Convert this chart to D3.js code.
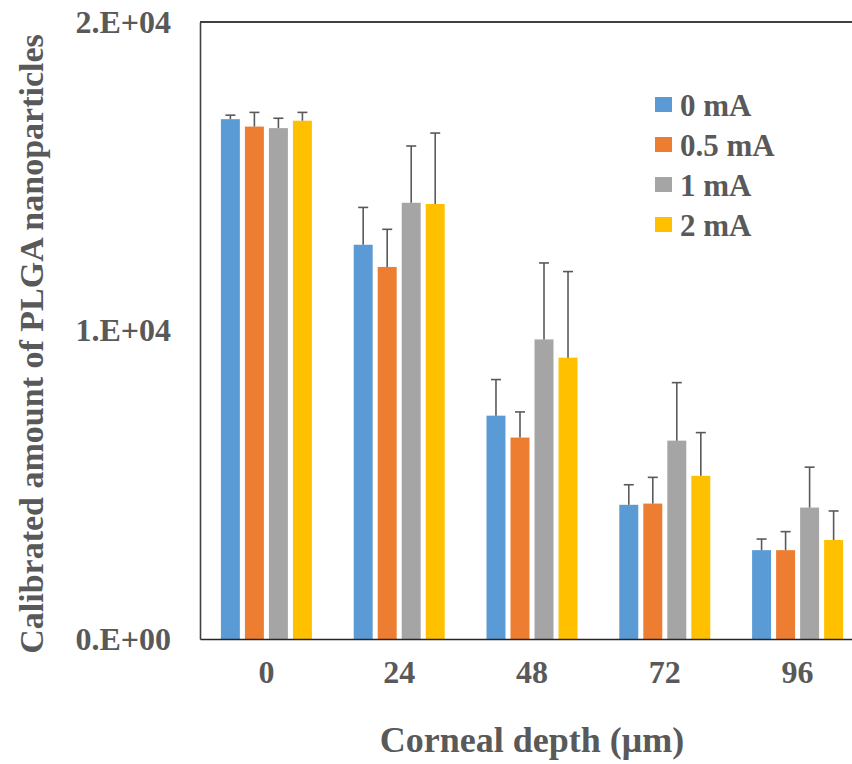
<!DOCTYPE html>
<html><head><meta charset="utf-8">
<script src="https://cdn.jsdelivr.net/npm/d3@7"></script>
<style>body{margin:0;background:#fff}svg{display:block}</style>
</head><body>
<svg id="c" width="852" height="764"></svg>
<script>
const categories = ["0", "24", "48", "72", "96"];
const seriesNames = ["0 mA", "0.5 mA", "1 mA", "2 mA"];
const colors = ["#5B9BD5", "#ED7D31", "#A5A5A5", "#FFC000"];
const val0mA  = [16850, 12780, 7240, 4350, 2880];
const val05mA = [16610, 12060, 6530, 4390, 2880];
const val1mA  = [16560, 14140, 9710, 6430, 4260];
const val2mA  = [16800, 14100, 9120, 5290, 3210];
const err0mA  = [130, 1210, 1170, 650, 360];
const err05mA = [460, 1220, 830, 850, 600];
const err1mA  = [320, 1840, 2480, 1880, 1310];
const err2mA  = [270, 2300, 2790, 1400, 940];
const yTicks = [0, 10000, 20000];
const yTickLabels = ["0.E+00", "1.E+04", "2.E+04"];

const values = [val0mA, val05mA, val1mA, val2mA];
const errors = [err0mA, err05mA, err1mA, err2mA];

const svg = d3.select("#c");
const m = {l: 200, t: 22, b: 639, r: 864};
const font = "'Liberation Serif', 'Times New Roman', serif";
const textCol = "#595959";

const x0 = d3.scaleBand().domain(categories).range([m.l, m.r]).padding(0);
const x1 = d3.scaleBand().domain(seriesNames).range([0, 91]).paddingInner(0.21).paddingOuter(0);
const y = d3.scaleLinear().domain([0, 20000]).range([m.b, m.t]);
const groupOff = (x0.bandwidth() - 91) / 2;

// bars
const data = [];
categories.forEach((c, i) => seriesNames.forEach((s, j) => data.push({c, s, j, v: values[j][i], e: errors[j][i]})));

svg.append("g").selectAll("rect").data(data).join("rect")
  .attr("x", d => x0(d.c) + groupOff + x1(d.s))
  .attr("y", d => y(d.v))
  .attr("width", x1.bandwidth())
  .attr("height", d => y(0) - y(d.v))
  .attr("fill", d => colors[d.j]);

// error bars
const eg = svg.append("g").attr("stroke", "#595959").attr("stroke-width", 1.6);
data.forEach(d => {
  const cx = x0(d.c) + groupOff + x1(d.s) + x1.bandwidth() / 2;
  eg.append("line").attr("x1", cx).attr("x2", cx).attr("y1", y(d.v)).attr("y2", y(d.v + d.e));
  eg.append("line").attr("x1", cx - 5).attr("x2", cx + 5).attr("y1", y(d.v + d.e)).attr("y2", y(d.v + d.e));
});

// frame top
svg.append("line").attr("x1", m.l).attr("x2", 852).attr("y1", m.t).attr("y2", m.t)
  .attr("stroke", "#404040").attr("stroke-width", 2);

// y axis
const ya = svg.append("g").attr("transform", `translate(${m.l},0)`)
  .call(d3.axisLeft(y).tickValues(yTicks).tickSize(0).tickPadding(29)
    .tickFormat((d, i) => yTickLabels[i]));
ya.select(".domain").attr("stroke", "#404040").attr("stroke-width", 1.6);
ya.selectAll("text").attr("font-family", font).attr("font-weight", "bold")
  .attr("font-size", 32).attr("fill", textCol);

// x axis
const xa = svg.append("g").attr("transform", `translate(0,${m.b})`)
  .call(d3.axisBottom(x0).tickSize(0).tickPadding(21));
xa.select(".domain").attr("stroke", "#262626").attr("stroke-width", 1.6);
xa.selectAll("text").attr("font-family", font).attr("font-weight", "bold")
  .attr("font-size", 32).attr("fill", textCol);

// axis titles
svg.append("text").attr("x", 532).attr("y", 752).attr("text-anchor", "middle")
  .attr("font-family", font).attr("font-weight", "bold").attr("font-size", 36).attr("fill", textCol)
  .text("Corneal depth (μm)");
svg.append("text").attr("transform", "translate(43,344) rotate(-90)").attr("text-anchor", "middle")
  .attr("font-family", font).attr("font-weight", "bold").attr("font-size", 34).attr("fill", textCol)
  .text("Calibrated amount of PLGA nanoparticles");

// legend
const lg = svg.append("g");
seriesNames.forEach((s, i) => {
  const yy = 105 + i * 40;
  lg.append("rect").attr("x", 655).attr("y", yy - 8).attr("width", 17).attr("height", 15).attr("fill", colors[i]);
  lg.append("text").attr("x", 680).attr("y", yy + 11).attr("font-family", font).attr("font-weight", "bold")
    .attr("font-size", 31).attr("fill", textCol).text(s);
});
</script>
</body></html>
